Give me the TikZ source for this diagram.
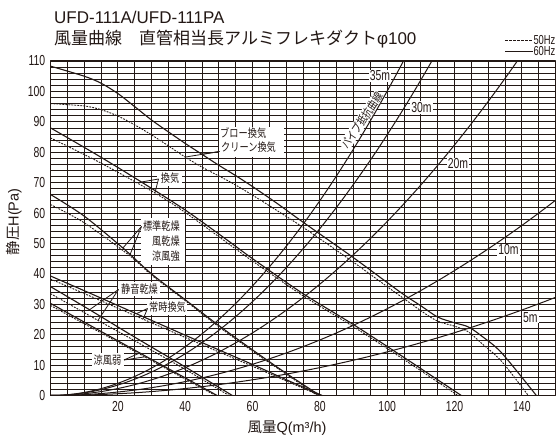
\documentclass[tikz,border=0pt]{standalone}
\usepackage{fontspec}
\setmainfont{Liberation Sans}
\newfontfamily\jp{Noto Sans CJK JP}
\newfontfamily\jpc{Noto Sans CJK JP}[FakeStretch=0.8]
\newfontfamily\numf{Liberation Sans}[FakeStretch=0.72]
\definecolor{ink}{HTML}{231815}
\begin{document}
\begin{tikzpicture}[x=1pt,y=1pt,line join=round,
  vgrid/.style={draw=ink,line width=0.9pt},
  hgrid/.style={draw=ink,line width=0.75pt},
  frame/.style={draw=ink,line width=1.2pt},
  fan/.style={draw=ink,line width=1.1pt},
  fand/.style={draw=ink,line width=0.9pt,dash pattern=on 1.8pt off 1.2pt},
  res/.style={draw=ink,line width=1pt},
  lead/.style={draw=ink,line width=0.8pt},
  jlab/.style={inner sep=0pt,text=ink,font=\jpc\fontsize{11.5}{11.5}\selectfont},
  nlab/.style={inner sep=0.6pt,text=ink,font=\numf\fontsize{14.5}{14.5}\selectfont},
  leg/.style={inner sep=0.3pt,text=ink,font=\numf\fontsize{13}{13}\selectfont},
  rlab/.style={nlab,fill=white,inner sep=1pt},
  bg/.style={fill=white}]
\useasboundingbox (0,0) rectangle (556,441);
\fill[white] (0,0) rectangle (556,441);
% ---------------- grid
\begin{scope}[shift={(50.5,45.5)},x=3.367pt,y=3.041pt]
  \foreach \q in {5,10,...,145} \draw[vgrid] (\q,0) -- (\q,110);
  \foreach \h in {2,4,...,108} \draw[hgrid] (0,\h) -- (150,\h);
  \draw[frame] (0,0) rectangle (150,110);
\end{scope}
% ---------------- label backgrounds
\fill[bg] (219,284) rectangle (284,314);
\fill[bg] (157,255) rectangle (182,270);
\fill[bg] (141,176) rectangle (185,223);
\fill[bg] (118,145) rectangle (160,159);
\fill[bg] (147,126) rectangle (187,141);
\fill[bg] (92,72) rectangle (124,88);
% resistance labels
\node[rlab] (r35) at (380,365) {35m};
\node[rlab] (r30) at (421.5,333.5) {30m};
\node[rlab] (r20) at (458,277) {20m};
\node[rlab] (r10) at (508.5,191) {10m};
\node[rlab] (r5) at (530.3,123.8) {5m};
\node[jlab,fill=white,inner sep=0.8pt,rotate=56] (pipe) at (361.8,320.5) {パイプ抵抗曲線};
% ---------------- curves
\begin{scope}[shift={(50.5,45.5)},x=3.367pt,y=3.041pt]
  % resistance curves
  \draw[res] plot[domain=0:104.8,samples=80] (\x,{0.01001*\x*\x});
  \draw[res] plot[domain=0:113.2,samples=80] (\x,{0.00858*\x*\x});
  \draw[res] plot[domain=0:138.7,samples=80] (\x,{0.00572*\x*\x});
  \draw[res] plot[domain=0:150,samples=80] (\x,{0.00286*\x*\x});
  \draw[res] plot[domain=0:150,samples=80] (\x,{0.00143*\x*\x});
  % blow / clean
  \draw[fan] plot[smooth,tension=0.5] coordinates {(0,108.3) (10,105) (15,102.7) (20,99.3) (25,95) (30,90.6) (35,86.7) (40,82.9) (45,79.3) (50,75.7) (55,72.3) (60,68.7) (67,63.4) (75,57) (90,45.3) (104,33.9) (110,29.5) (115,25.8) (120,23.9) (124,22.6) (128,19.6) (134,14) (144.3,0)};
  \draw[fand] plot[smooth,tension=0.5] coordinates {(0,96) (10,95.2) (15,94) (20,91.9) (25,89) (30,85.7) (35,82.1) (40,78.4) (45,75.1) (50,72.2) (55,69.2) (62,64.5) (75,55.3) (90,43.8) (104,32.6) (114,25) (120,22.8) (124,21) (128,17.2) (134,11.2) (141.9,0)};
  % kanki
  \draw[fan] plot[smooth,tension=0.5] coordinates {(0,88) (14,79) (27,70.2) (40,61) (52,51.5) (60,45) (75,33.5) (90,23.3) (105,12.5) (122,0)};
  \draw[fand] plot[smooth,tension=0.5] coordinates {(0,84.7) (14,77) (31,66.6) (40,60.2) (52,50.6) (60,44.2) (75,32.8) (90,22.6) (105,11.8) (121,0)};
  % hyojun kanso
  \draw[fan] plot[smooth,tension=0.5] coordinates {(0,66.1) (10,59) (21.5,48.5) (30,40) (40,31.5) (50,23) (60,15) (70,7.3) (80,0)};
  \draw[fand] plot[smooth,tension=0.5] coordinates {(0,62.8) (10,56.8) (23.5,46) (30,39.6) (40,31.2) (50,22.6) (60,14.6) (70,7) (79.3,0)};
  % jouji kanki
  \draw[fan] plot[smooth,tension=0.5] coordinates {(0,39.3) (12,33.5) (25.5,26.9) (45,17.4) (60,10.2) (70,5.2) (80.7,0)};
  \draw[fand] plot[smooth,tension=0.5] coordinates {(0,38.3) (13,32.1) (27.5,25.1) (45,16.7) (60,9.6) (70,4.8) (80,0)};
  % seion kanso
  \draw[fan] plot[smooth,tension=0.5] coordinates {(0,35.8) (11.6,28.2) (25,19.2) (40,9.4) (54,0)};
  \draw[fand] plot[smooth,tension=0.5] coordinates {(0,33.5) (14.1,24.7) (25,18) (40,8.6) (53,0)};
  % ryofu jaku
  \draw[fan] plot[smooth,tension=0.5] coordinates {(0,30.3) (13,22.3) (26.5,14) (40,5.8) (49.5,0)};
  \draw[fand] plot[smooth,tension=0.5] coordinates {(0,29.6) (14,21.2) (28,12.7) (40,5.4) (49,0)};
  % leader end points
  \coordinate (pBs) at (45,79.3);
  \coordinate (pBd) at (40,78.4);
  \coordinate (pKs) at (27,70.2);
  \coordinate (pKd) at (31,66.6);
  \coordinate (pHs) at (21.5,48.5);
  \coordinate (pHd) at (23.5,46);
  \coordinate (pSs) at (11.6,28.2);
  \coordinate (pSd) at (14.1,24.7);
  \coordinate (pJs) at (25.5,26.9);
  \coordinate (pJd) at (27.5,25.1);
  \coordinate (pRs) at (26.5,14);
  \coordinate (pRd) at (28,12.7);
\end{scope}
% ---------------- fan labels
\node[jlab,anchor=west] (blow) at (220,308) {ブロー換気};
\node[jlab,anchor=west] (clean) at (221,293.5) {クリーン換気};
\node[jlab] (kanki) at (170,262.5) {換気};
\node[jlab,anchor=east] (hyo) at (180,214.5) {標準乾燥};
\node[jlab,anchor=east] (kaze) at (180,199.5) {風乾燥};
\node[jlab,anchor=east] (ryok) at (180,184.5) {涼風強};
\node[jlab] (seion) at (139.5,152) {静音乾燥};
\node[jlab] (jouji) at (167.5,133.5) {常時換気};
\node[jlab] (ryoj) at (107.5,80.5) {涼風弱};
% leaders
\coordinate (sB) at (219.5,289.5);
\coordinate (sK) at (158.5,262);
\coordinate (sH) at (141.5,214.5);
\coordinate (sS) at (118.5,151.5);
\coordinate (sJ) at (147.5,132.5);
\coordinate (sR) at (124,81);
\draw[lead] (sB) -- (pBs); \draw[lead] (sB) -- (pBd);
\draw[lead] (sK) -- (pKs); \draw[lead] (sK) -- (pKd);
\draw[lead] (sH) -- (pHs); \draw[lead] (sH) -- (pHd);
\draw[lead] (sS) -- (pSs); \draw[lead] (sS) -- (pSd);
\draw[lead] (sJ) -- (pJs); \draw[lead] (sJ) -- (pJd);
\draw[lead] (sR) -- (pRs); \draw[lead] (sR) -- (pRd);
% ---------------- axes numbers
\foreach \h in {0,10,...,110} \node[nlab,anchor=east] (yl\h) at (46,{45.5+3.041*\h}) {\h};
\foreach \q in {20,40,...,140} \node[nlab] (xl\q) at ({50.5+3.367*\q},34) {\q};
% axis titles
\node[rotate=90,text=ink,inner sep=0pt,font=\fontsize{14.5}{14.5}\selectfont] (ytitle) at (14,219) {{\jp 静圧}H(Pa)};
\node[text=ink,inner sep=0pt,font=\fontsize{14.5}{14.5}\selectfont] (xtitle) at (287,13) {{\jp 風量}Q(m³/h)};
% ---------------- title
\node[anchor=base west,inner sep=0pt,text=ink,font=\fontsize{17}{17}\selectfont] (t1) at (54,417) {UFD-111A/UFD-111PA};
\node[anchor=base west,inner sep=0pt,text=ink,font=\jp\fontsize{17}{17}\selectfont] (t2) at (54,396) {風量曲線　直管相当長アルミフレキダクト{\rmfamily φ100}};
% ---------------- legend
\node[leg,anchor=west] (l50) at (533,401) {50Hz};
\node[leg,anchor=west] (l60) at (533,390) {60Hz};
\coordinate (d50) at (505,401);
\coordinate (d60) at (505,390);
\draw[draw=ink,line width=0.9pt,dash pattern=on 2.5pt off 1.5pt] (d50) -- (l50.west);
\draw[draw=ink,line width=0.9pt] (d60) -- (l60.west);
\end{tikzpicture}
\end{document}
